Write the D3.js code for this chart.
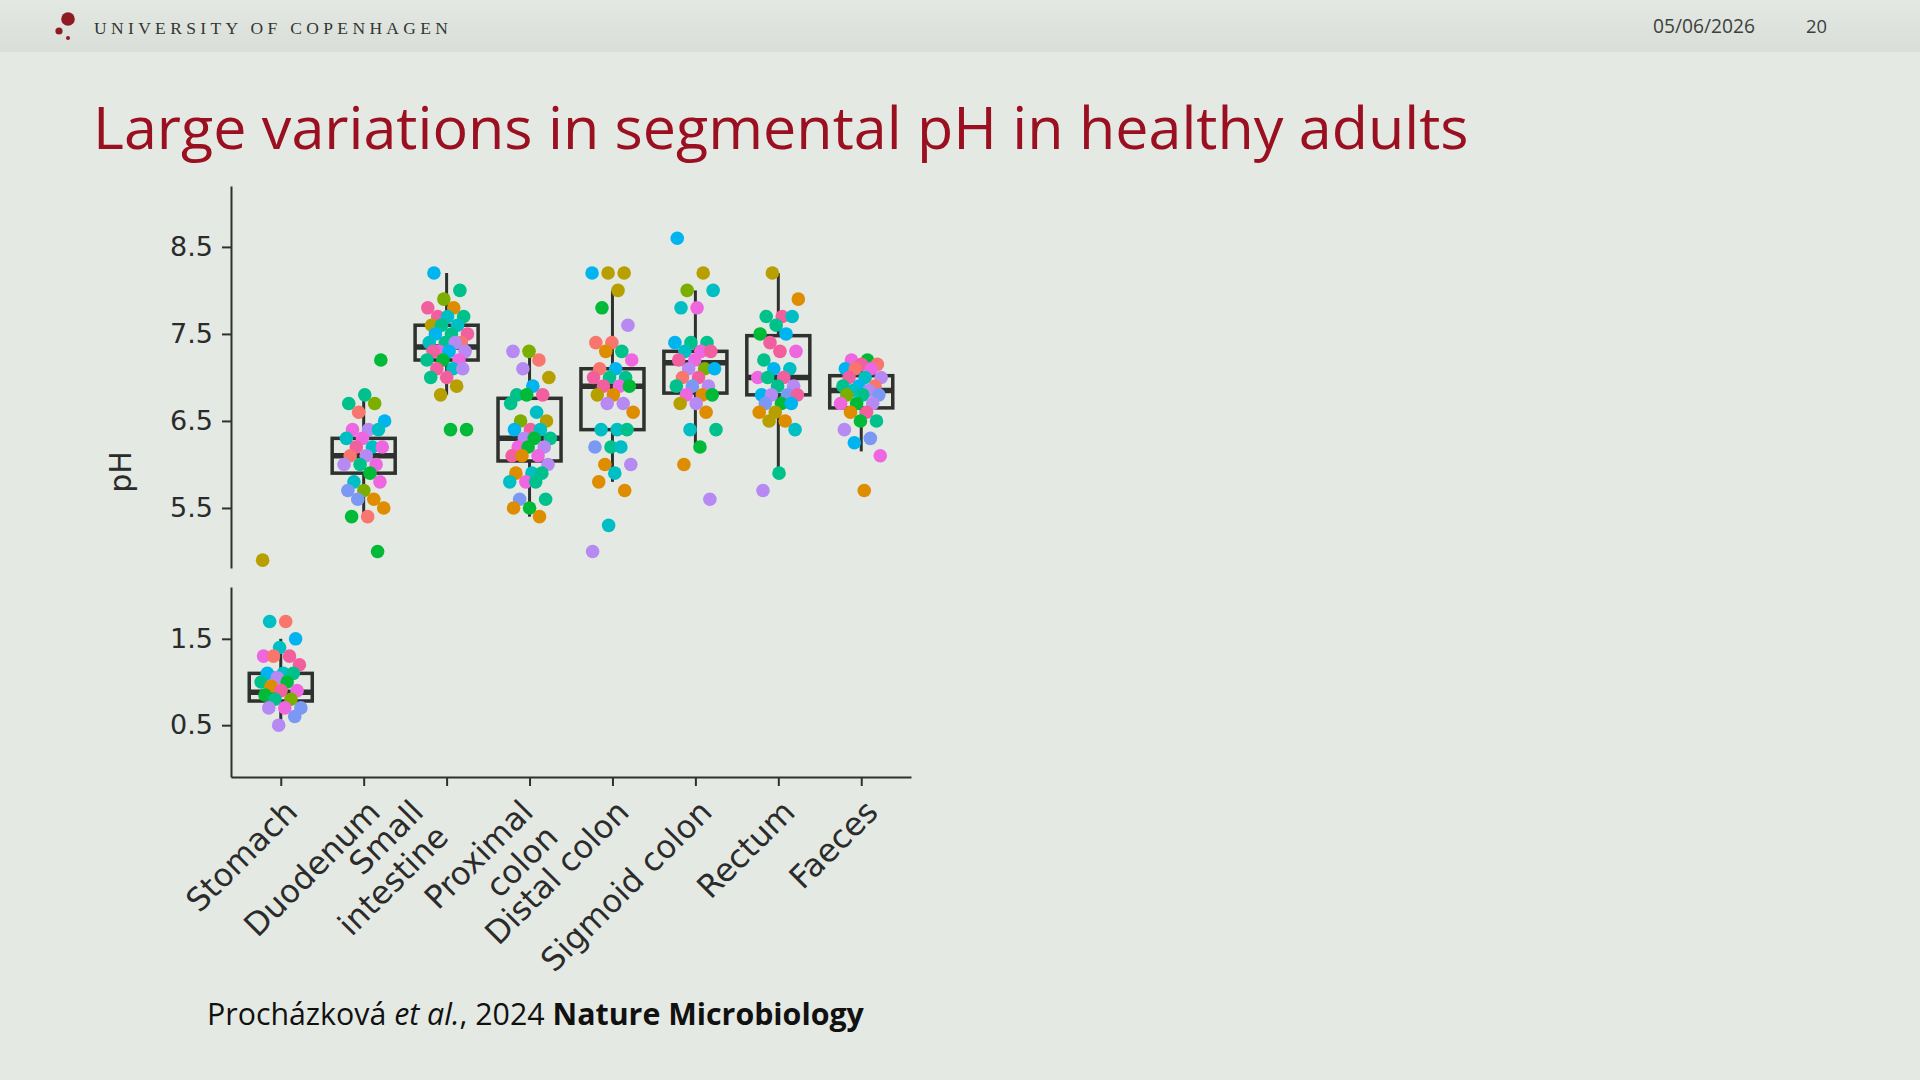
<!DOCTYPE html>
<html>
<head>
<meta charset="utf-8">
<script src="https://cdn.jsdelivr.net/npm/d3@7"></script>
<style>
  body { margin: 0; background: #e4e9e3; }
  svg { display: block; }
</style>
</head>
<body>
<div id="slide"></div>
<script>
// Segment names (x categories)
var categories = ["Stomach", "Duodenum", "Small\nintestine", "Proximal\ncolon",
  "Distal colon", "Sigmoid colon", "Rectum", "Faeces"];

// Box statistics per segment
var q1Values     = [0.78, 5.90, 7.20, 6.04, 6.40, 6.82, 6.80, 6.65];
var medianValues = [0.88, 6.10, 7.35, 6.30, 6.90, 7.17, 7.00, 6.85];
var q3Values     = [1.10, 6.30, 7.60, 6.76, 7.10, 7.30, 7.48, 7.02];
var whiskerLow   = [0.50, 5.40, 6.80, 5.40, 5.80, 6.20, 5.90, 6.15];
var whiskerHigh  = [1.50, 6.80, 8.20, 7.30, 8.00, 8.00, 8.20, 7.20];

// Individual measurements: [pH, subject]
var stomach = [[1.7,0],[1.7,6],[1.5,7],[1.4,6],[1.3,10],[1.3,11],[1.3,0],[1.2,11],[1.1,6],[1.1,7],
  [1.1,5],[1.05,9],[1.0,5],[1.0,4],[0.95,1],[0.9,10],[0.9,11],[0.85,4],[0.8,3],[0.8,5],[0.7,8],
  [0.7,10],[0.7,9],[0.6,8],[0.5,9],[4.9,2]];
var duodenum = [[7.2,4],[6.8,5],[6.7,5],[6.7,3],[6.6,0],[6.5,7],[6.4,9],[6.4,10],[6.4,6],[6.3,10],
  [6.3,6],[6.2,6],[6.2,11],[6.2,10],[6.1,9],[6.1,0],[6.0,10],[6.0,5],[6.0,9],[5.9,4],[5.8,6],
  [5.8,10],[5.7,3],[5.7,8],[5.6,1],[5.6,8],[5.5,1],[5.4,0],[5.4,4],[5.0,4]];
var smallIntestine = [[8.2,7],[8.0,5],[7.9,3],[7.8,11],[7.8,1],[7.7,11],[7.7,5],[7.7,6],[7.6,2],
  [7.6,6],[7.6,5],[7.5,11],[7.5,5],[7.5,7],[7.4,0],[7.4,5],[7.4,6],[7.4,9],[7.3,10],[7.3,9],
  [7.3,7],[7.3,11],[7.2,10],[7.2,4],[7.2,5],[7.1,6],[7.1,11],[7.1,9],[7.0,11],[7.0,5],[6.9,2],
  [6.8,2],[6.4,4],[6.4,4]];
var proximalColon = [[7.3,3],[7.3,9],[7.2,0],[7.1,9],[7.0,2],[6.9,7],[6.8,5],[6.8,11],[6.8,4],
  [6.7,5],[6.6,6],[6.5,3],[6.5,2],[6.4,11],[6.4,7],[6.4,6],[6.3,9],[6.3,5],[6.3,4],[6.2,10],
  [6.2,9],[6.2,4],[6.1,11],[6.1,10],[6.1,1],[6.0,9],[5.9,6],[5.9,1],[5.9,5],[5.8,10],[5.8,6],
  [5.8,5],[5.6,8],[5.6,5],[5.5,4],[5.5,1],[5.4,1]];
var distalColon = [[8.2,2],[8.2,2],[8.2,7],[8.0,2],[7.8,4],[7.6,9],[7.4,0],[7.4,0],[7.3,5],[7.3,1],
  [7.2,10],[7.1,7],[7.1,0],[7.0,5],[7.0,5],[7.0,11],[6.9,10],[6.9,11],[6.9,4],[6.8,1],[6.8,2],
  [6.7,9],[6.7,9],[6.6,1],[6.4,6],[6.4,6],[6.4,5],[6.2,5],[6.2,8],[6.2,6],[6.0,1],[6.0,9],
  [5.9,6],[5.8,1],[5.7,1],[5.3,6],[5.0,9]];
var sigmoidColon = [[8.6,7],[8.2,2],[8.0,3],[8.0,6],[7.8,10],[7.8,6],[7.4,5],[7.4,5],[7.4,7],
  [7.3,10],[7.3,6],[7.3,11],[7.2,10],[7.2,11],[7.1,3],[7.1,9],[7.1,7],[7.0,11],[7.0,0],[6.9,9],
  [6.9,8],[6.9,5],[6.8,1],[6.8,10],[6.8,4],[6.7,9],[6.7,2],[6.6,1],[6.4,6],[6.4,5],[6.2,4],
  [6.0,1],[5.6,9]];
var rectum = [[8.2,2],[7.9,1],[7.7,11],[7.7,5],[7.7,6],[7.6,5],[7.5,4],[7.5,7],[7.4,11],[7.3,10],
  [7.3,11],[7.2,5],[7.1,6],[7.1,7],[7.0,10],[7.0,11],[7.0,5],[6.9,9],[6.9,5],[6.8,7],[6.8,8],
  [6.8,9],[6.8,11],[6.7,4],[6.7,8],[6.7,7],[6.6,2],[6.6,1],[6.5,1],[6.5,2],[6.4,6],[5.9,5],
  [5.7,9]];
var faeces = [[7.2,4],[7.2,10],[7.15,0],[7.15,11],[7.1,7],[7.1,10],[7.1,0],[7.0,9],[7.0,6],
  [7.0,11],[6.9,0],[6.9,7],[6.9,5],[6.85,9],[6.85,6],[6.8,8],[6.8,5],[6.8,3],[6.7,9],[6.7,4],
  [6.7,10],[6.6,11],[6.6,1],[6.5,5],[6.5,4],[6.4,9],[6.3,8],[6.25,7],[6.1,10],[5.7,1]];

var measurements = [stomach, duodenum, smallIntestine, proximalColon,
  distalColon, sigmoidColon, rectum, faeces];

// Tick values of the two broken y panels
var upperTicks = [5.5, 6.5, 7.5, 8.5];
var lowerTicks = [0.5, 1.5];

var subjectColors = ["#F8766D", "#DE8C00", "#B79F00", "#7CAE00", "#00BA38", "#00C08B",
  "#00BFC4", "#00B4F0", "#7B98F4", "#B68AF2", "#EE67E0", "#F25F9E"];

var svgWidth = 1920;
var svgHeight = 1080;
var dark = "#2f312f";

var svg = d3.select("#slide")
  .append("svg")
  .attr("width", svgWidth)
  .attr("height", svgHeight);

// Header bar
var defs = svg.append("defs");
var grad = defs.append("linearGradient")
  .attr("id", "headGrad")
  .attr("x1", 0).attr("y1", 0).attr("x2", 0).attr("y2", 1);
grad.append("stop").attr("offset", "0%").attr("stop-color", "#e3e8e2");
grad.append("stop").attr("offset", "100%").attr("stop-color", "#d9dfd8");

svg.append("rect")
  .attr("width", svgWidth)
  .attr("height", svgHeight)
  .attr("fill", "#e4e9e3");

svg.append("rect")
  .attr("width", svgWidth)
  .attr("height", 52)
  .attr("fill", "url(#headGrad)");

var logo = svg.append("g").attr("fill", "#8e1a24");
logo.append("circle").attr("cx", 68).attr("cy", 19).attr("r", 6.8);
logo.append("circle").attr("cx", 59).attr("cy", 31).attr("r", 3.6);
logo.append("circle").attr("cx", 68).attr("cy", 38).attr("r", 2);

// fit a text element to a target width by scaling its font size
function fitWidth(sel, target) {
  var node = sel.node();
  var w = node.getComputedTextLength();
  var fs = parseFloat(sel.attr("font-size"));
  sel.attr("font-size", fs * target / w);
}

svg.append("text")
  .attr("x", 94)
  .attr("y", 34)
  .attr("font-family", "Liberation Serif, serif")
  .attr("font-size", 17.5)
  .attr("fill", "#333733")
  .attr("textLength", 354)
  .attr("lengthAdjust", "spacing")
  .text("UNIVERSITY OF COPENHAGEN");

var dateText = svg.append("text")
  .attr("x", 1653)
  .attr("y", 33)
  .attr("font-family", "Open Sans, sans-serif")
  .attr("font-size", 18)
  .attr("fill", "#3d403d")
  .text("05/06/2026");
fitWidth(dateText, 102);

var pageText = svg.append("text")
  .attr("x", 1806)
  .attr("y", 33)
  .attr("font-family", "Open Sans, sans-serif")
  .attr("font-size", 18)
  .attr("fill", "#3d403d")
  .text("20");
fitWidth(pageText, 21);

// Title
var title = svg.append("text")
  .attr("x", 93)
  .attr("y", 149)
  .attr("font-family", "Open Sans, sans-serif")
  .attr("font-size", 58)
  .attr("fill", "#9a1020")
  .text("Large variations in segmental pH in healthy adults");
fitWidth(title, 1376);

// Scales
var xScale = d3.scalePoint()
  .domain(categories)
  .range([231, 911])
  .padding(0.6);

var yUpper = d3.scaleLinear()
  .domain([4.81, 9.2])
  .range([568, 186]);

var yLower = d3.scaleLinear()
  .domain([-0.1, 2.1])
  .range([777, 587]);

var boxWidth = xScale.step() * 0.76;

function panelScale(v) {
  return v >= 3 ? yUpper : yLower;
}

var chart = svg.append("g");

// Axes
var upperAxis = chart.append("g")
  .attr("transform", "translate(231,0)")
  .call(d3.axisLeft(yUpper).tickValues(upperTicks).tickSize(9).tickSizeOuter(0).tickPadding(9)
    .tickFormat(d3.format(".1f")));

var lowerAxis = chart.append("g")
  .attr("transform", "translate(231,0)")
  .call(d3.axisLeft(yLower).tickValues(lowerTicks).tickSize(9).tickSizeOuter(0).tickPadding(9)
    .tickFormat(d3.format(".1f")));

var xAxis = chart.append("g")
  .attr("transform", "translate(0,777)")
  .call(d3.axisBottom(xScale).tickSize(9).tickSizeOuter(0));

[upperAxis, lowerAxis, xAxis].forEach(function(ax) {
  ax.select(".domain").attr("stroke", dark).attr("stroke-width", 2);
  ax.selectAll(".tick line").attr("stroke", dark).attr("stroke-width", 2);
  ax.selectAll("text")
    .attr("font-family", "DejaVu Sans, sans-serif")
    .attr("fill", "#2b2b2b");
});
upperAxis.selectAll("text").attr("font-size", 27);
lowerAxis.selectAll("text").attr("font-size", 27);

// rotated category labels; two-line labels are right aligned and the
// block slides left when its first line is the shorter one
var lineHeight = 1.1;
xAxis.selectAll(".tick text")
  .attr("font-size", 32)
  .attr("y", null)
  .attr("dy", null)
  .attr("text-anchor", "end")
  .each(function(d) {
    var t = d3.select(this);
    var lines = d.split("\n");
    t.text(null);
    var spans = lines.map(function(line, i) {
      return t.append("tspan")
        .attr("x", 0)
        .attr("dy", i === 0 ? "0.75em" : lineHeight + "em")
        .text(line);
    });
    var widths = spans.map(s => s.node().getComputedTextLength());
    var shift = lines.length > 1 ? -12 - 0.53 * (d3.max(widths) - widths[0]) : 1;
    t.attr("transform", "translate(" + shift + ",20) rotate(-45)");
  });

chart.append("text")
  .attr("transform", "translate(131,472) rotate(-90)")
  .attr("text-anchor", "middle")
  .attr("font-family", "DejaVu Sans, sans-serif")
  .attr("font-size", 30)
  .attr("fill", "#2b2b2b")
  .text("pH");

// Boxes
var boxData = categories.map(function(c, i) {
  return { cat: c, q1: q1Values[i], med: medianValues[i], q3: q3Values[i],
    lo: whiskerLow[i], hi: whiskerHigh[i] };
});

var boxes = chart.selectAll(".box")
  .data(boxData)
  .enter()
  .append("g")
  .attr("class", "box");

boxes.append("line")
  .attr("x1", d => xScale(d.cat))
  .attr("x2", d => xScale(d.cat))
  .attr("y1", d => panelScale(d.med)(d.hi))
  .attr("y2", d => panelScale(d.med)(d.q3))
  .attr("stroke", dark)
  .attr("stroke-width", 3);

boxes.append("line")
  .attr("x1", d => xScale(d.cat))
  .attr("x2", d => xScale(d.cat))
  .attr("y1", d => panelScale(d.med)(d.q1))
  .attr("y2", d => panelScale(d.med)(d.lo))
  .attr("stroke", dark)
  .attr("stroke-width", 3);

boxes.append("rect")
  .attr("x", d => xScale(d.cat) - boxWidth / 2)
  .attr("width", boxWidth)
  .attr("y", d => panelScale(d.med)(d.q3))
  .attr("height", d => panelScale(d.med)(d.q1) - panelScale(d.med)(d.q3))
  .attr("fill", "none")
  .attr("stroke", dark)
  .attr("stroke-width", 3.5);

boxes.append("line")
  .attr("x1", d => xScale(d.cat) - boxWidth / 2)
  .attr("x2", d => xScale(d.cat) + boxWidth / 2)
  .attr("y1", d => panelScale(d.med)(d.med))
  .attr("y2", d => panelScale(d.med)(d.med))
  .attr("stroke", dark)
  .attr("stroke-width", 5.5);

// Jittered points (deterministic spread)
var points = [];
measurements.forEach(function(list, c) {
  list.forEach(function(p, i) {
    var u = ((i + 1) * 0.6180339887 + c * 0.29) % 1;
    points.push({ cat: categories[c], ph: p[0], subject: p[1], jitter: (u * 2 - 1) * 21 });
  });
});

chart.selectAll(".pt")
  .data(points)
  .enter()
  .append("circle")
  .attr("class", "pt")
  .attr("cx", d => xScale(d.cat) + d.jitter)
  .attr("cy", d => panelScale(d.ph)(d.ph))
  .attr("r", 6.8)
  .attr("fill", d => subjectColors[d.subject]);

// Citation
var cite = svg.append("text")
  .attr("x", 207)
  .attr("y", 1025)
  .attr("font-family", "Open Sans, sans-serif")
  .attr("font-size", 32)
  .attr("fill", "#111");
cite.append("tspan").text("Procházková ");
cite.append("tspan").attr("font-style", "italic").text("et al.");
cite.append("tspan").text(", 2024 ");
cite.append("tspan").attr("font-weight", "bold").text("Nature Microbiology");
fitWidth(cite, 657);
</script>
</body>
</html>
